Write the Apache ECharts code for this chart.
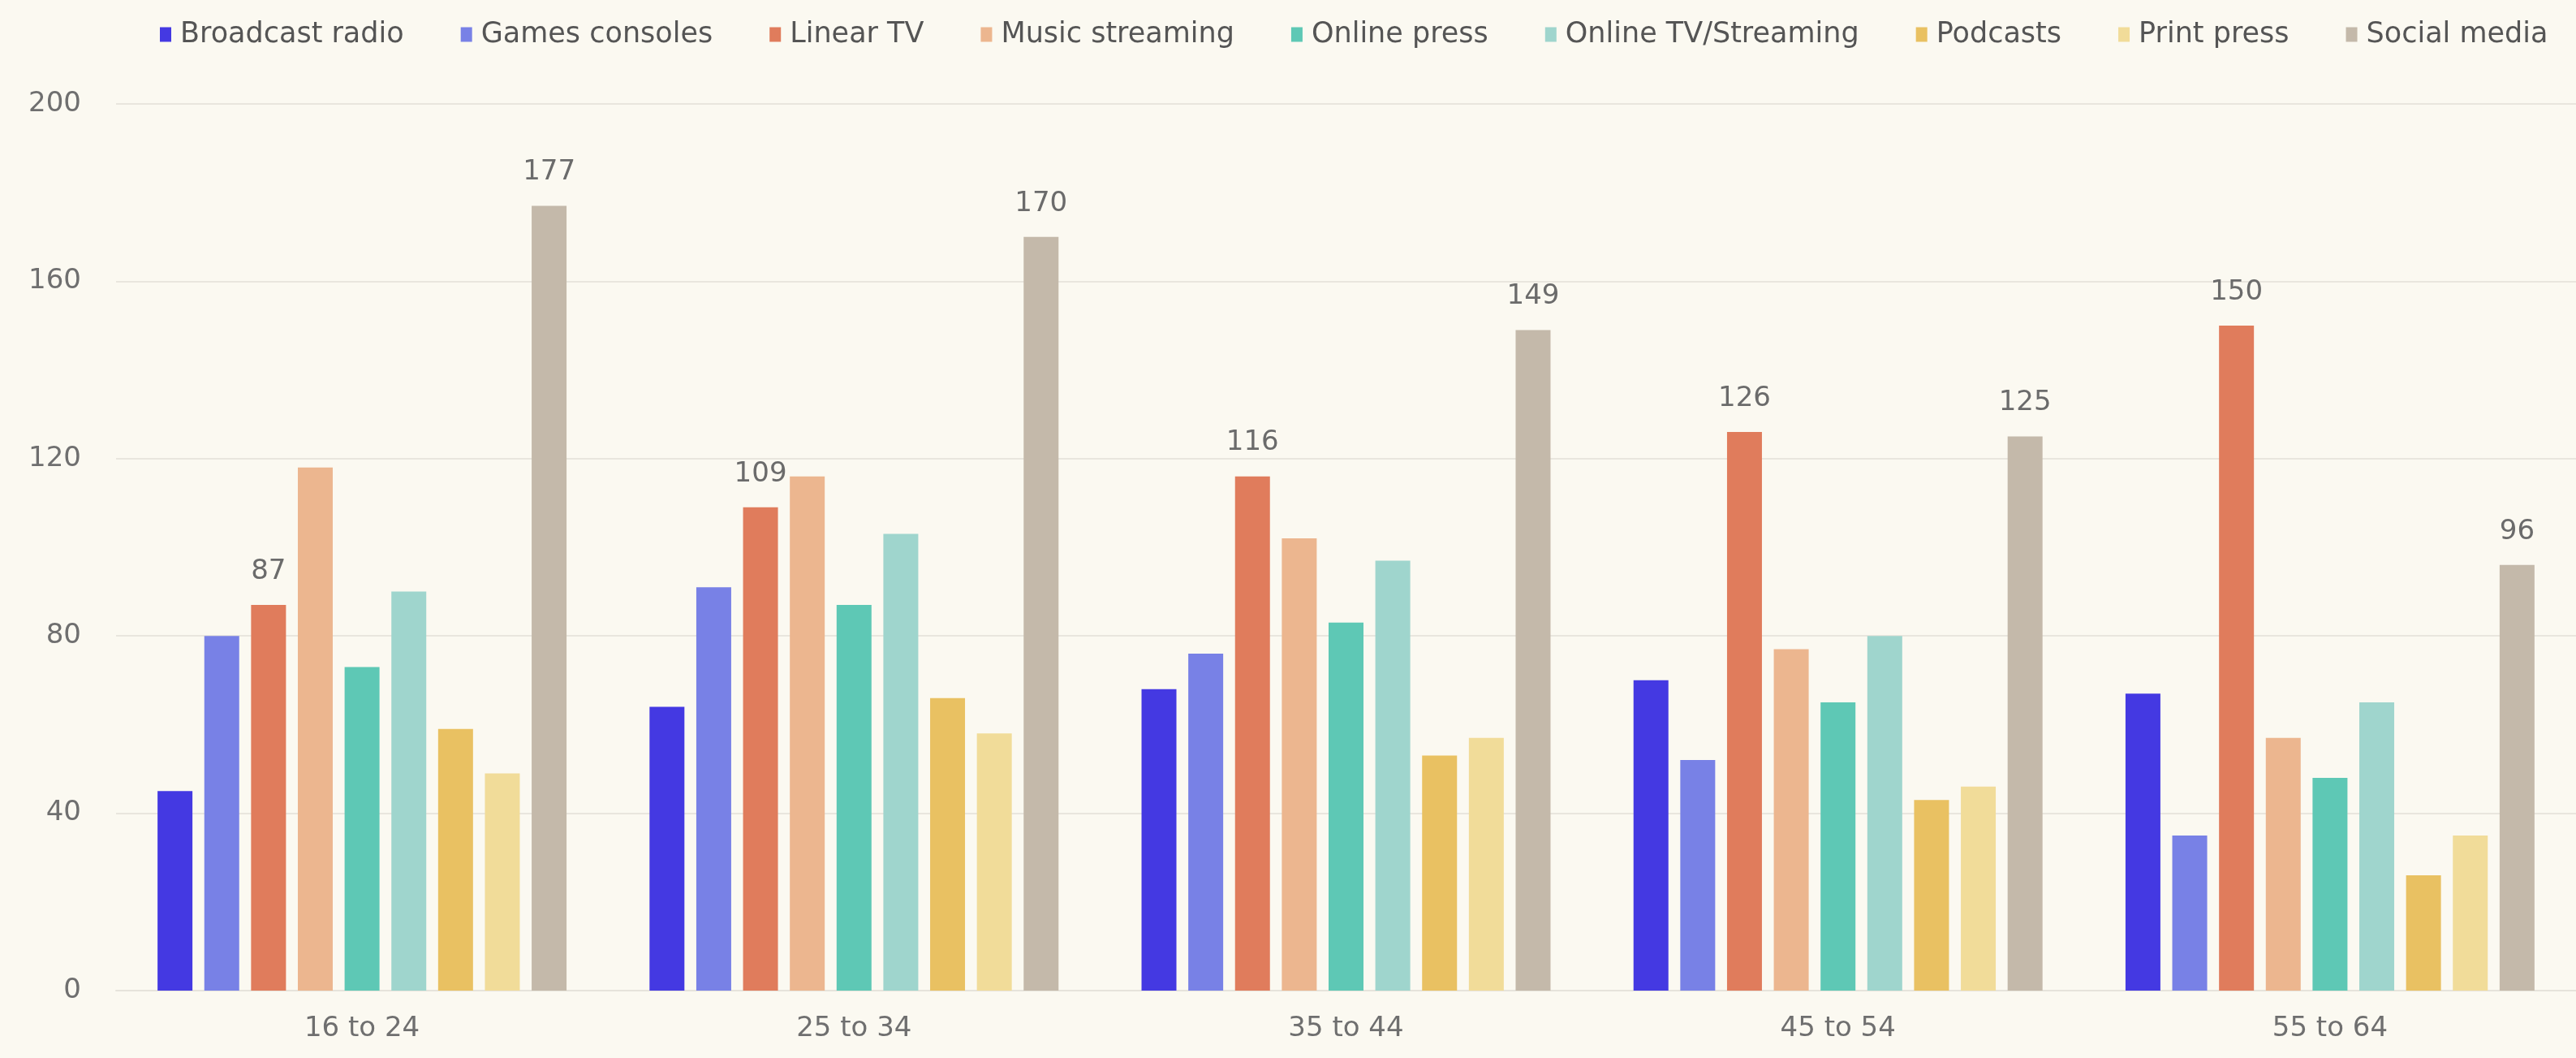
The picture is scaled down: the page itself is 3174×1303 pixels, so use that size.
<!DOCTYPE html>
<html>
<head>
<meta charset="utf-8">
<title>Media use by age group</title>
<script src="https://cdn.jsdelivr.net/npm/echarts@6/dist/echarts.min.js"></script>
<style>
  html, body { margin: 0; padding: 0; background: #fbf9f1; }
  #chart { width: 3174px; height: 1303px; }
</style>
</head>
<body>
<div id="chart"></div>
<script>
// Age groups along the x axis
const ageGroups = ['16 to 24', '25 to 34', '35 to 44', '45 to 54', '55 to 64'];

// One array per media type, in age-group order
const broadcastRadio   = [45, 64, 68, 70, 67];
const gamesConsoles    = [80, 91, 76, 52, 35];
const linearTV         = [87, 109, 116, 126, 150];
const musicStreaming   = [118, 116, 102, 77, 57];
const onlinePress      = [73, 87, 83, 65, 48];
const onlineTVStreaming = [90, 103, 97, 80, 65];
const podcasts         = [59, 66, 53, 43, 26];
const printPress       = [49, 58, 57, 46, 35];
const socialMedia      = [177, 170, 149, 125, 96];

// Value-axis ticks
const yTicks = [0, 40, 80, 120, 160, 200];

const seriesDefs = [
  { name: 'Broadcast radio',     data: broadcastRadio,    color: '#4439e2', label: false },
  { name: 'Games consoles',      data: gamesConsoles,     color: '#7881e6', label: false },
  { name: 'Linear TV',           data: linearTV,          color: '#e07c5c', label: true },
  { name: 'Music streaming',     data: musicStreaming,    color: '#ecb68f', label: false },
  { name: 'Online press',        data: onlinePress,       color: '#5ec8b5', label: false },
  { name: 'Online TV/Streaming', data: onlineTVStreaming, color: '#9fd5cd', label: false },
  { name: 'Podcasts',            data: podcasts,          color: '#e9c162', label: false },
  { name: 'Print press',         data: printPress,        color: '#f1dc99', label: false },
  { name: 'Social media',        data: socialMedia,       color: '#c4b9aa', label: true }
];

const FONT = 'DejaVu Sans';

const chart = echarts.init(document.getElementById('chart'), null, { renderer: 'canvas' });

chart.setOption({
  backgroundColor: '#fbf9f1',
  animation: false,
  textStyle: { fontFamily: FONT },
  legend: {
    left: 192,
    top: 20,
    itemWidth: 14,
    itemHeight: 18,
    itemGap: 70,
    icon: 'rect',
    textStyle: { fontFamily: FONT, fontSize: 35, color: '#555555', padding: [0, 0, 0, 6] },
    data: seriesDefs.map(s => s.name)
  },
  grid: {
    left: 143,
    right: 0,
    top: 128,
    bottom: 83,
    containLabel: false,
    outerBoundsMode: 'none'
  },
  xAxis: {
    type: 'category',
    data: ageGroups,
    axisTick: { show: false },
    axisLine: { show: true, lineStyle: { color: '#e6e3db', width: 2 } },
    axisLabel: { fontFamily: FONT, fontSize: 34, color: '#6f6f6f', margin: 30 }
  },
  yAxis: {
    type: 'value',
    min: yTicks[0],
    max: yTicks[yTicks.length - 1],
    interval: yTicks[1] - yTicks[0],
    axisLine: { show: false },
    axisTick: { show: false },
    axisLabel: { fontFamily: FONT, fontSize: 34, color: '#6f6f6f', margin: 43 },
    splitLine: { lineStyle: { color: '#e9e6de', width: 2 } }
  },
  series: seriesDefs.map(s => ({
    name: s.name,
    type: 'bar',
    data: s.data,
    barWidth: 43,
    barGap: '34%',
    itemStyle: { color: s.color },
    label: {
      show: s.label,
      position: 'top',
      distance: 24,
      fontFamily: FONT,
      fontSize: 34,
      color: '#6b6b6b'
    }
  }))
});
</script>
</body>
</html>
